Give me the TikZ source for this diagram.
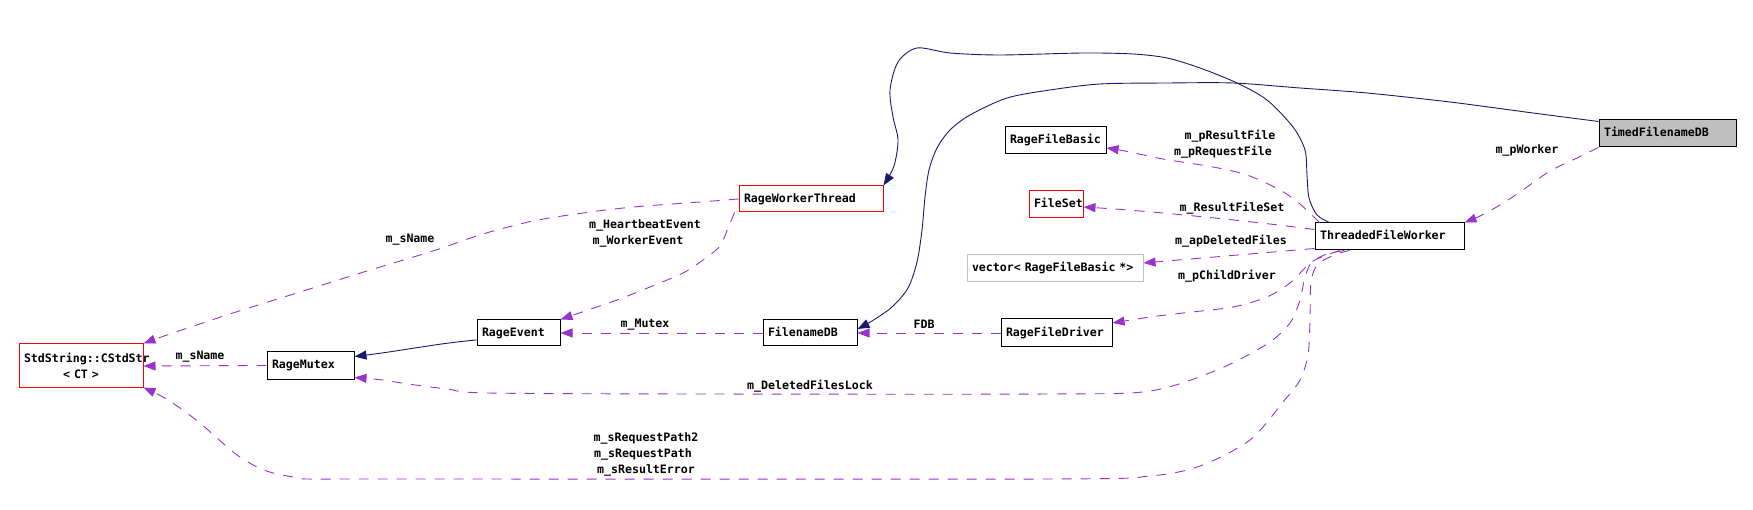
\documentclass[tikz,border=0pt]{standalone}
\usepackage{fontspec}
\usetikzlibrary{arrows.meta}
\newfontfamily\dmono{DejaVu Sans Mono}
\newcommand\labfont{\dmono\bfseries\fontsize{11.6}{16}\selectfont}
\definecolor{purp}{RGB}{154,50,205}
\definecolor{navy}{RGB}{25,25,112}
\definecolor{boxgray}{RGB}{191,191,191}
\tikzset{
  cls/.style={draw, line width=1pt, inner xsep=5pt, inner ysep=0pt, align=left, font=\labfont, text height=8.5pt, text depth=2pt},
  redcls/.style={cls, draw=red},
  graycls/.style={cls, draw=boxgray},
  lbl/.style={font=\labfont, inner sep=0pt},
  inh/.style={draw=navy, line width=0.9pt, -{Triangle[length=12pt,width=9pt]}},
  usage/.style={draw=purp, line width=0.9pt, dash pattern=on 10pt off 9pt, -{Triangle[length=12pt,width=9pt]}}
}
\begin{document}
\begin{tikzpicture}[x=1pt,y=-1pt]
\useasboundingbox (0,0) rectangle (1753,510);
% nodes
\node[redcls, text width=114pt, minimum height=43pt, align=center, text height=, text depth=] (ss) at (81,365.5) {StdString::CStdStr\\< CT >};
\node[cls, text width=77pt, minimum height=27pt] (rm) at (310.5,365.5) {RageMutex};
\node[cls, text width=73pt, minimum height=26pt] (re) at (518.5,333) {RageEvent};
\node[cls, text width=84pt, minimum height=26pt] (fdb) at (810,333) {FilenameDB};
\node[redcls, text width=134pt, minimum height=26pt] (rwt) at (811,199) {RageWorkerThread};
\node[cls, text width=91pt, minimum height=27pt] (rfb) at (1055.5,140.5) {RageFileBasic};
\node[redcls, text width=44pt, minimum height=27pt, inner xsep=5pt] (fs) at (1056,204.5) {FileSet};
\node[graycls, text width=166pt, minimum height=27pt] (vec) at (1055,268.5) {vector< RageFileBasic *>};
\node[cls, text width=101pt, minimum height=28pt] (rfd) at (1056.5,333) {RageFileDriver};
\node[cls, text width=139pt, minimum height=27pt] (tfw) at (1389.5,236.5) {ThreadedFileWorker};
\node[cls, fill=boxgray, text width=127pt, minimum height=27pt] (tdb) at (1667.5,133.5) {TimedFilenameDB};

% inheritance (solid navy)
\draw[inh] plot[smooth, tension=0.5] coordinates {([xshift=15pt]tfw.north west) (1317,215) (1309,198) (1307,175) (1305,150) (1293,127) (1267,100) (1237,83) (1200,68) (1167,58) (1133,54) (1083,53) (1000,55) (950,53) (917,48) (898,62) (890,90) (893,117) (898,140) (894,166) (rwt.north east)};
\draw[inh] plot[smooth, tension=0.5] coordinates {([yshift=-2pt]tdb.north west) (1533,113) (1450,102) (1367,93) (1300,88) (1233,83) (1167,83) (1100,84) (1050,90) (1007,98) (970,115) (950,130) (937,148) (929,170) (925,197) (922,230) (917,262) (908,288) (892,307) (872,321) ([yshift=4pt]fdb.east)};
\draw[inh] ([yshift=-7pt]re.west) .. controls (440,343) and (400,351) .. ([yshift=-5pt]rm.north east);

% usage (dashed purple)
\draw[usage] plot[smooth, tension=0.5] coordinates {(rwt.west) (700,202) (633,207) (583,213) (533,221) (483,234) (433,251) (367,271) (300,292) (233,313) (167,335) (ss.north east)};
\node[lbl] (l1) at (410,240) {m\_sName};

\draw[usage] plot[smooth, tension=0.5] coordinates {([xshift=-4pt]rwt.south west) (728,228) (720,246) (703,260) (683,273) (650,287) (617,300) (588,310) (re.north east)};
\node[lbl] (l2a) at (645,225) {m\_HeartbeatEvent};
\node[lbl] (l2b) at (638,241) {m\_WorkerEvent};

\draw[usage] (fdb.west) -- (re.east);
\node[lbl] (l3) at (645,325) {m\_Mutex};

\draw[usage] (rm.west) -- ([yshift=-0.5pt]ss.east);
\node[lbl] (l4) at (200,357) {m\_sName};

\draw[usage] (rfd.west) -- (fdb.east);
\node[lbl] (l5) at (924,324) {FDB};

\draw[usage] plot[smooth, tension=0.5] coordinates {([xshift=5pt]tfw.north west) (1300,204) (1280,190) (1247,175) (1213,167) (1163,159) (1125,151) ([yshift=-7.5pt]rfb.east)};
\node[lbl] (l6a) at (1230,136) {m\_pResultFile};
\node[lbl] (l6b) at (1223,152) {m\_pRequestFile};

\draw[usage] ([yshift=-7pt]tfw.north west) .. controls (1250,221) and (1150,211) .. ([yshift=-2.5pt]fs.east);
\node[lbl] (l7) at (1232,208) {m\_ResultFileSet};

\draw[usage] ([yshift=2pt]tfw.south west) .. controls (1250,254) and (1190,259) .. ([yshift=5.5pt]vec.east);
\node[lbl] (l8) at (1231,241) {m\_apDeletedFiles};

\draw[usage] plot[smooth, tension=0.5] coordinates {([xshift=25pt]tfw.south west) (1327,255) (1313,261) (1303,270) (1290,283) (1267,297) (1233,307) (1183,313) (1150,317) ([yshift=10pt]rfd.east)};
\node[lbl] (l9) at (1227,276) {m\_pChildDriver};

\draw[usage] plot[smooth, tension=0.5] coordinates {([xshift=30pt]tfw.south west) (1327,254) (1312,262) (1305,277) (1300,300) (1290,323) (1267,344) (1217,370) (1150,391) (1050,394) (700,394) (488,393) (447,389) (408,384) (383,380) ([yshift=2pt]rm.south east)};
\node[lbl] (l10) at (810,386) {m\_DeletedFilesLock};

\draw[usage] plot[smooth, tension=0.5] coordinates {([xshift=35pt]tfw.south west) (1337,254) (1318,264) (1311,282) (1310,320) (1308,355) (1300,380) (1283,402) (1250,440) (1200,466) (1150,476) (1050,479) (400,479) (307,479) (293,477) (273,473) (257,467) (237,455) (217,438) (200,423) (180,408) (163,397) (ss.south east)};
\node[lbl] (l11a) at (646,438) {m\_sRequestPath2};
\node[lbl] (l11b) at (643,454) {m\_sRequestPath};
\node[lbl] (l11c) at (646,470) {m\_sResultError};

\draw[usage] plot[smooth, tension=0.5] coordinates {(tdb.south west) (1577,158) (1550,171) (1520,192) (1500,205) (1480,216) (tfw.north east)};
\node[lbl] (l12) at (1527,150) {m\_pWorker};
\end{tikzpicture}
\end{document}
